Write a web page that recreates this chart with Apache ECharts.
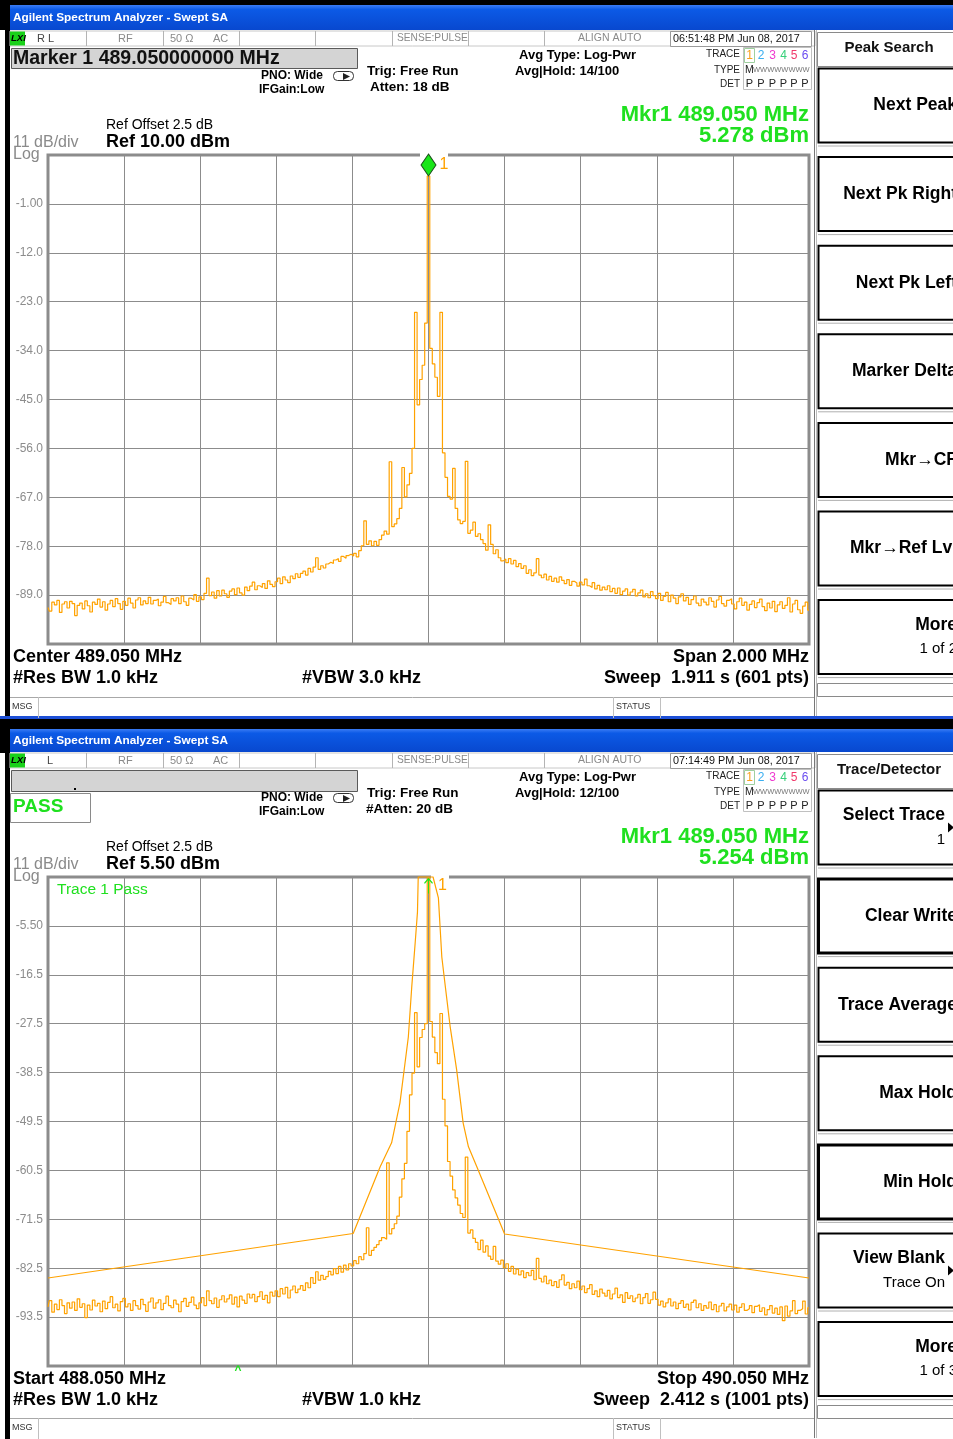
<!DOCTYPE html>
<html>
<head>
<meta charset="utf-8">
<title>Agilent Spectrum Analyzer - Swept SA</title>
<script src="https://cdn.jsdelivr.net/npm/echarts@6/dist/echarts.min.js"></script>
<style>
  html, body { margin: 0; padding: 0; background: #fff; }
  #chart { width: 953px; height: 1439px; }
</style>
</head>
<body>
<div id="chart"></div>
<script>
// ---- Sweep settings ----
const upperStartMHz = 488.05;   // Center 489.050 MHz, Span 2.000 MHz
const upperStopMHz = 490.05;
const lowerStartMHz = 488.05;   // Start 488.050 MHz
const lowerStopMHz = 490.05;    // Stop 490.050 MHz

// Reference levels and scale (11 dB/div, 10 divisions)
const upperRefDbm = 10.0;
const lowerRefDbm = 5.5;
const dbPerDiv = 11;

// Marker 1 readouts
const upperMarkerMHz = 489.05, upperMarkerDbm = 5.278;
const lowerMarkerMHz = 489.05, lowerMarkerDbm = 5.254;

// Trace 1, upper screen (dBm, evenly spaced across the span)
const upperTraceDbm = [
  -91.8, -92.6, -90.6, -91.2, -90.2, -92.9, -91.0, -90.5, -91.9, -90.4,
  -90.9, -93.6, -91.3, -90.8, -92.1, -90.3, -91.4, -92.8, -90.6, -91.1,
  -89.9, -91.7, -90.5, -92.4, -91.0, -90.2, -91.6, -89.8, -90.9, -92.2,
  -90.4, -91.3, -89.7, -90.8, -91.9, -90.1, -89.6, -91.2, -90.3, -90.9,
  -89.5, -91.0, -90.2, -89.9, -91.4, -90.6, -89.3, -90.7, -91.1, -89.8,
  -90.3, -89.6, -90.9, -89.2, -90.5, -91.3, -89.7, -90.1, -88.9, -90.4,
  -89.4, -90.0, -88.6, -85.2, -89.1, -88.3, -89.7, -88.0, -89.2, -87.9,
  -88.7, -89.5, -88.1, -87.6, -88.9, -87.4, -88.5, -89.0, -87.2, -88.0,
  -87.0, -86.1, -87.8, -86.9, -87.3, -86.4, -87.5, -85.8, -86.6, -87.1,
  -86.0, -85.2, -86.4, -84.9, -85.6, -86.2, -84.7, -85.3, -84.2, -85.0,
  -84.1, -83.6, -84.5, -83.0, -83.8, -82.7, -80.6, -83.2, -82.4, -82.9,
  -82.0, -81.6, -81.9, -81.1, -80.8, -81.4, -80.3, -80.7, -80.1, -79.8,
  -80.2, -79.6, -80.4, -79.0, -77.9, -72.3, -77.6, -76.8, -77.9, -76.9,
  -77.8, -76.5, -75.5, -74.6, -75.3, -59.0, -73.6, -73.0, -71.8, -69.5,
  -60.3, -66.9, -64.2, -61.6, -56.0, -25.4, -46.2, -40.5, -37.3, -27.8,
  5.278,
  -33.5, -37.0, -40.0, -44.3, -25.4, -57.0, -62.5, -66.8, -67.4,
  -60.5, -69.5, -72.1, -72.9, -72.4, -58.9, -75.1, -74.4, -72.6, -75.8,
  -75.2, -76.5, -77.4, -78.9, -73.2, -77.6, -79.7, -78.8, -80.6, -81.3,
  -80.9, -81.7, -80.8, -82.0, -81.2, -82.6, -81.9, -83.0, -82.4, -84.1,
  -83.3, -84.6, -84.0, -80.8, -84.5, -85.1, -84.3, -85.6, -84.8, -85.9,
  -85.2, -86.1, -84.9, -85.7, -86.4, -85.5, -86.8, -85.9, -86.3, -87.0,
  -86.1, -86.7, -85.4, -86.9, -87.3, -86.2, -87.6, -86.8, -87.9, -87.2,
  -87.8, -86.9, -88.2, -87.5, -88.6, -87.4, -88.9, -88.1, -87.6, -89.0,
  -88.3, -87.7, -89.2, -88.5, -87.9, -89.4, -88.7, -89.6, -88.2, -89.1,
  -89.8, -88.6, -90.2, -89.3, -88.4, -90.5, -89.0, -89.7, -90.9, -89.4,
  -88.7, -90.3, -89.5, -91.1, -90.0, -89.2, -90.8, -91.4, -89.9, -90.6,
  -91.2, -89.6, -90.4, -91.7, -90.1, -89.3, -90.9, -91.5, -90.2, -89.8,
  -91.0, -92.1, -90.5, -89.7, -91.3, -90.6, -92.4, -91.1, -90.3, -91.8,
  -90.7, -89.9, -91.6, -92.5, -90.8, -91.9, -90.4, -92.7, -91.2, -90.5,
  -92.0, -91.3, -89.6, -92.8, -91.0, -90.2, -92.3, -93.1, -91.5, -90.6, -92.4
];

// Trace 1, lower screen (dBm, evenly spaced across the span)
const lowerTraceDbm = [
  -91.2, -89.8, -92.4, -90.6, -91.8, -89.6, -90.9, -92.7, -90.3, -91.5,
  -90.1, -92.0, -89.4, -91.3, -90.5, -93.6, -90.8, -91.9, -89.7, -91.0,
  -90.4, -92.3, -89.9, -91.6, -90.2, -88.9, -91.4, -90.6, -92.1, -90.0,
  -89.3, -91.2, -90.5, -92.0, -89.8, -90.9, -91.7, -89.5, -90.7, -92.2,
  -90.1, -89.2, -91.5, -90.3, -89.6, -91.8, -90.4, -88.8, -90.9, -91.4,
  -89.7, -90.6, -92.3, -90.0, -89.3, -91.1, -90.2, -89.0, -90.8, -91.6,
  -90.3, -89.1, -90.9, -87.6, -89.8, -90.5, -89.2, -91.3, -89.6, -88.7,
  -90.1, -89.4, -88.5, -90.6, -89.0, -91.2, -88.8, -89.7, -90.4, -88.3,
  -89.2, -88.4, -90.0, -88.9, -87.8, -89.5, -88.6, -90.3, -87.9, -88.8,
  -87.6, -88.9, -87.1, -88.3, -86.8, -89.2, -87.4, -86.5, -88.0, -87.2,
  -86.4, -87.5, -85.8, -86.9, -84.6, -85.9, -83.3, -85.2, -84.1, -85.0,
  -84.4, -83.2, -84.0, -82.6, -83.7, -82.1, -83.4, -81.8, -82.9, -81.5,
  -82.0, -80.8, -81.5, -79.9, -80.6, -79.2, -73.4, -79.6, -78.5, -77.8,
  -77.2, -76.3, -75.6, -76.0, -58.8, -74.8, -73.6, -72.5, -70.8, -66.5,
  -62.4, -58.9, -51.7, -43.5, -38.6, -25.0, -37.2, -30.6, -28.8, -27.5,
  5.254,
  -27.0, -30.5, -34.0, -36.5, -25.2, -44.5, -50.5, -58.5, -61.8,
  -64.9, -66.7, -68.3, -70.2, -71.1, -57.5, -74.6, -73.9, -75.8, -76.7,
  -78.3, -76.2, -78.9, -77.5, -79.8, -80.5, -77.6, -80.9, -81.6, -80.7,
  -82.4, -81.5, -83.2, -82.1, -83.8, -82.7, -84.0, -83.1, -84.6, -83.5,
  -84.2, -83.0, -85.1, -80.3, -84.8, -85.6, -84.3, -86.0, -85.2, -86.4,
  -85.5, -86.8, -85.1, -84.0, -86.3, -85.7, -87.1, -86.0, -86.9, -85.4,
  -87.3, -86.5, -88.0, -87.1, -86.2, -88.4, -87.6, -88.9, -87.2, -88.1,
  -88.8, -87.5, -89.4, -88.3, -87.0, -89.1, -88.5, -90.2, -88.0, -89.3,
  -88.7, -90.0, -89.2, -88.4, -90.5, -89.1, -88.2, -90.4, -89.6, -87.9,
  -89.5, -90.8, -89.9, -91.2, -90.3, -89.4, -91.0, -90.1, -91.6, -90.4,
  -89.8, -91.3, -90.6, -91.9, -90.2, -89.7, -91.4, -90.5, -92.0, -90.9,
  -91.5, -90.1, -91.8, -90.7, -92.3, -91.0, -90.4, -92.1, -91.2, -90.6,
  -91.9, -90.8, -92.4, -91.3, -90.5, -92.0, -91.6, -90.9, -92.5, -91.1,
  -90.7, -92.2, -91.4, -93.0, -91.8, -90.9, -92.6, -91.5, -92.9, -91.2,
  -94.3, -91.0, -93.3, -92.1, -89.8, -92.7, -92.0, -91.6, -89.9, -92.8, -91.4
];

// Limit line on the lower screen (vertices)
const lowerLimitMHz = [488.050, 488.852, 488.923, 488.953, 488.975, 488.997, 489.006, 489.015, 489.021, 489.023,
                       489.062, 489.076, 489.085, 489.093, 489.107, 489.124, 489.141, 489.155, 489.177, 489.250, 490.050];
const lowerLimitDbm = [-84.7, -74.7, -59.7, -54.3, -45.3, -30.5, -19.2, -9.3, -2.4, 5.5,
                       5.5, 0.8, -12.5, -18.3, -28.2, -37.9, -49.8, -55.2, -59.7, -74.8, -84.7];

// Softkey menus
const upperMenuTitle = 'Peak Search';
const upperKeys = [
  { main: 'Next Peak' }, { main: 'Next Pk Right' }, { main: 'Next Pk Left' },
  { main: 'Marker Delta' }, { main: 'Mkr\u2192CF' }, { main: 'Mkr\u2192Ref Lvl' },
  { main: 'More', sub: '1 of 2' }
];
const lowerMenuTitle = 'Trace/Detector';
const lowerKeys = [
  { main: 'Select Trace', sub: '1', arrow: true }, { main: 'Clear Write', heavy: true },
  { main: 'Trace Average' }, { main: 'Max Hold' }, { main: 'Min Hold', heavy: true },
  { main: 'View Blank', sub: 'Trace On', arrow: true }, { main: 'More', sub: '1 of 3' }
];

// ---- Drawing helpers ----
const FONT = '"Liberation Sans", Arial, sans-serif';
const ORANGE = '#ffa200';
const GREEN = '#1fe01f';
const GRID_GRAY = '#8c8c8c';
function font(size, weight) { return (weight ? weight + ' ' : '') + size + 'px ' + FONT; }

const G = [];
function rect(x, y, w, h, fill, stroke, lw, z, r) {
  G.push({ type: 'rect', silent: true, z: z || 0,
    shape: { x: x, y: y, width: w, height: h, r: r || 0 },
    style: { fill: fill || 'none', stroke: stroke || null, lineWidth: lw || 1 } });
}
function seg(x1, y1, x2, y2, stroke, lw) {
  G.push({ type: 'line', silent: true, shape: { x1: x1, y1: y1, x2: x2, y2: y2 },
    style: { stroke: stroke, lineWidth: lw || 1 } });
}
function poly(points, fill) {
  G.push({ type: 'polygon', silent: true, shape: { points: points }, style: { fill: fill } });
}
function text(x, y, s, f, fill, align) {
  G.push({ type: 'text', silent: true, z: 5,
    style: { x: x, y: y, text: s, font: f, fill: fill || '#000',
             textAlign: align || 'left', textVerticalAlign: 'middle' } });
}

// Window frame
rect(0, 0, 953, 5, '#000');
rect(5, 0, 5, 1439, '#000');
rect(0, 0, 10, 30, '#000');
rect(0, 716, 953, 13, '#000');
rect(0, 716, 953, 3, '#1d4fd6');
rect(0, 729, 10, 24, '#000');

function drawScreen(d, o) {
  // title bar
  G.push({ type: 'rect', silent: true, shape: { x: 10, y: o.titleTop, width: 943, height: o.titleH },
    style: { fill: new echarts.graphic.LinearGradient(0, 0, 0, 1, [
      { offset: 0, color: '#3b7cf4' }, { offset: 0.18, color: '#0c5ae6' }, { offset: 1, color: '#0848cf' }]) } });
  text(13, o.titleTop + o.titleH / 2, 'Agilent Spectrum Analyzer - Swept SA', font(11.8, 'bold'), '#fff');

  // status row
  const sy = 31 + d;
  rect(10, sy, 805, 15, '#fff', '#c8c8c8', 1);
  [86, 163, 239, 315, 392, 468, 544, 670].forEach(x => seg(x + 0.5, sy, x + 0.5, sy + 15, '#b4b4b4', 1));
  rect(10, sy + 0.5, 15, 14, '#19d119');
  text(11, sy + 7.5, 'LXI', font(9.5, 'italic bold'), '#000');
  text(o.rlX, sy + 7.5, o.rl, font(11), '#444');
  text(118, sy + 7.5, 'RF', font(11), '#8a8a8a');
  text(170, sy + 7.5, '50 \u03a9', font(11), '#8a8a8a');
  text(213, sy + 7.5, 'AC', font(11), '#8a8a8a');
  text(397, sy + 7.5, 'SENSE:PULSE', font(10.2), '#8a8a8a');
  text(578, sy + 7.5, 'ALIGN AUTO', font(10.5), '#8a8a8a');
  rect(670.5, sy + 0.5, 141, 15, '#fff', '#9a9a9a', 1);
  text(673, sy + 8, o.clock, font(10.8), '#111');

  // marker readout line
  rect(11.5, 48.5 + d, 346, o.markerH, '#d4d4d4', '#5a5a5a', 1);
  if (o.markerLine) text(13, 58.5 + d, o.markerLine, font(19.5, 'bold'), '#111');
  if (o.pass) {
    rect(74, 66 + d, 2, 2, '#000');
    rect(10.5, 71.5 + d, 80, 29, '#fff', '#8a8a8a', 1);
    text(13, 84.5 + d, o.pass, font(19, 'bold'), GREEN);
  }

  // acquisition settings
  text(261, 76 + d, 'PNO: Wide', font(12, 'bold'));
  text(259, 90 + d, 'IFGain:Low', font(12, 'bold'));
  rect(333.5, 71.5 + d, 20, 9, 'none', '#333', 1, 0, 4);
  poly([[343, 73 + d], [350, 76.5 + d], [343, 80 + d]], '#222');
  text(367, 71 + d, 'Trig: Free Run', font(13.5, 'bold'));
  text(o.attenX, 87.5 + d, o.atten, font(13.5, 'bold'));
  text(519, 55 + d, 'Avg Type: Log-Pwr', font(13, 'bold'));
  text(515, 71 + d, o.avgHold, font(13, 'bold'));

  // trace indicator block
  text(740, 54 + d, 'TRACE', font(10), '#222', 'right');
  text(740, 70 + d, 'TYPE', font(10), '#222', 'right');
  text(740, 84 + d, 'DET', font(10), '#222', 'right');
  rect(743.5, 47.5 + d, 68, 42, '#fff', '#c0c0c0', 1);
  rect(744.5, 48.5 + d, 10, 14, 'none', '#9fd09f', 1);
  const tx = [749.5, 761, 772.5, 783.5, 794, 805];
  const tc = ['#f7a21b', '#3aaef0', '#ee38d0', '#36d07a', '#f0386a', '#6a4cf0'];
  tx.forEach((x, i) => {
    text(x, 56 + d, String(i + 1), font(12), tc[i], 'center');
    text(x, 83.5 + d, 'P', font(11), '#222', 'center');
  });
  text(745, 70 + d, 'M', font(10.5), '#222');
  text(753, 70 + d, 'WWWWWWWW', font(7.5), '#777');

  // marker readout
  text(809, 115 + d, o.mkrFreq, font(22, 'bold'), GREEN, 'right');
  text(809, 136 + d, o.mkrLevel, font(22, 'bold'), GREEN, 'right');

  // reference / scale
  text(106, 125 + d, 'Ref Offset 2.5 dB', font(14));
  text(106, 142 + d, o.refLevel, font(18, 'bold'));
  text(13, 143 + d, '11 dB/div', font(16), '#8a8a8a');
  text(13, 155 + d, 'Log', font(16), '#8a8a8a');

  // sweep annotations
  text(13, 657 + d, o.freqLeft, font(18, 'bold'));
  text(809, 657 + d, o.freqRight, font(18, 'bold'), '#000', 'right');
  text(13, 678 + d, '#Res BW 1.0 kHz', font(18, 'bold'));
  text(302, 678 + d, o.vbw, font(18, 'bold'));
  text(809, 678 + d, o.sweep, font(18, 'bold'), '#000', 'right');

  // message row
  const my = o.msgTop;
  seg(10, my + 0.5, 815, my + 0.5, '#a8a8a8', 1);
  seg(38.5, my, 38.5, my + 21, '#c0c0c0', 1);
  seg(613.5, my, 613.5, my + 21, '#c0c0c0', 1);
  seg(660.5, my, 660.5, my + 21, '#c0c0c0', 1);
  text(12, my + 10, 'MSG', font(9), '#333');
  text(616, my + 10, 'STATUS', font(9), '#333');

  // softkey panel
  seg(814.5, 30 + d, 814.5, 716 + d, '#777', 1);
  seg(816.5, 30 + d, 816.5, 716 + d, '#bbb', 1);
  rect(817.5, 32.5 + d, 140, 34, '#fff', '#8a8a8a', 1);
  text(889, 48 + d, o.menuTitle, font(15, 'bold'), '#111', 'center');
  o.keys.forEach((k, i) => {
    const top = 68.5 + d + 88.6 * i;
    const c = top + 37;
    rect(818.5, top, 150, 74, '#fff', '#000', k.heavy ? 3 : 2);
    seg(818, top + 77.5, 953, top + 77.5, '#b0b0b0', 1);
    const rx = k.arrow ? 945 : 957;
    if (k.sub) {
      text(rx, c - 12, k.main, font(17.5, 'bold'), '#000', 'right');
      text(rx, c + 12, k.sub, font(15), '#000', 'right');
    } else {
      text(rx, c, k.main, font(17.5, 'bold'), '#000', 'right');
    }
    if (k.arrow) poly([[948, c - 5], [954, c], [948, c + 5]], '#000');
  });
  rect(817.5, 683.5 + d, 140, 13, '#fff', '#8a8a8a', 1);
}

drawScreen(0, {
  titleTop: 5, titleH: 25, rl: 'R L', rlX: 37, clock: '06:51:48 PM Jun 08, 2017',
  markerH: 20, markerLine: 'Marker 1 489.050000000 MHz', pass: null,
  atten: 'Atten: 18 dB', attenX: 370, avgHold: 'Avg|Hold: 14/100',
  mkrFreq: 'Mkr1 489.050 MHz', mkrLevel: '5.278 dBm', refLevel: 'Ref 10.00 dBm',
  freqLeft: 'Center 489.050 MHz', freqRight: 'Span 2.000 MHz', vbw: '#VBW 3.0 kHz',
  sweep: 'Sweep  1.911 s (601 pts)', msgTop: 697,
  menuTitle: upperMenuTitle, keys: upperKeys
});
drawScreen(722, {
  titleTop: 729, titleH: 23, rl: 'L', rlX: 47, clock: '07:14:49 PM Jun 08, 2017',
  markerH: 21, markerLine: null, pass: 'PASS',
  atten: '#Atten: 20 dB', attenX: 366, avgHold: 'Avg|Hold: 12/100',
  mkrFreq: 'Mkr1 489.050 MHz', mkrLevel: '5.254 dBm', refLevel: 'Ref 5.50 dBm',
  freqLeft: 'Start 488.050 MHz', freqRight: 'Stop 490.050 MHz', vbw: '#VBW 1.0 kHz',
  sweep: 'Sweep  2.412 s (1001 pts)', msgTop: 1418,
  menuTitle: lowerMenuTitle, keys: lowerKeys
});

// limit-test annotation and caret on the lower screen
text(57, 890, 'Trace 1 Pass', font(15.5), GREEN);
text(238, 1371, '^', font(12, 'bold'), GREEN, 'center');

// breaks in the top graticule edge behind the marker annotations
rect(420, 151, 28, 8, '#fff', null, 1, 1);
rect(431, 873, 18, 8, '#fff', null, 1, 1);

// ---- Chart ----
function sweepPoints(start, stop, levels) {
  const n = levels.length - 1;
  return levels.map((v, i) => [start + (stop - start) * i / n, v]);
}
function levelLabel(lo, hi) {
  return function (v) {
    if (Math.abs(v - lo) < 1e-6 || Math.abs(v - hi) < 1e-6) return '';
    return Math.abs(v) < 10 ? v.toFixed(2) : v.toFixed(1);
  };
}
const upperMin = upperRefDbm - 10 * dbPerDiv;
const lowerMin = lowerRefDbm - 10 * dbPerDiv;

function xAxisFor(idx, start, stop) {
  return { gridIndex: idx, type: 'value', min: start, max: stop, interval: (stop - start) / 10,
    axisLine: { show: false }, axisTick: { show: false }, axisLabel: { show: false },
    splitLine: { show: true, lineStyle: { color: GRID_GRAY, width: 1 } } };
}
function yAxisFor(idx, lo, hi) {
  return { gridIndex: idx, type: 'value', min: lo, max: hi, interval: dbPerDiv,
    axisLine: { show: false }, axisTick: { show: false },
    axisLabel: { show: true, margin: 5, color: '#8c8c8c', fontSize: 12, fontFamily: FONT,
                 formatter: levelLabel(lo, hi) },
    splitLine: { show: true, lineStyle: { color: GRID_GRAY, width: 1 } } };
}

const gridStyle = { show: true, borderColor: '#8c8c8c', borderWidth: 3, backgroundColor: '#fff' };

const option = {
  backgroundColor: '#fff',
  animation: false,
  grid: [
    Object.assign({ left: 48, top: 155, width: 761, height: 489 }, gridStyle),
    Object.assign({ left: 48, top: 877, width: 761, height: 489 }, gridStyle)
  ],
  xAxis: [xAxisFor(0, upperStartMHz, upperStopMHz), xAxisFor(1, lowerStartMHz, lowerStopMHz)],
  yAxis: [yAxisFor(0, upperMin, upperRefDbm), yAxisFor(1, lowerMin, lowerRefDbm)],
  series: [
    {
      name: 'Trace 1', type: 'line', xAxisIndex: 0, yAxisIndex: 0,
      data: sweepPoints(upperStartMHz, upperStopMHz, upperTraceDbm),
      step: 'middle', symbol: 'none', clip: false, z: 3,
      lineStyle: { color: ORANGE, width: 1.2 },
      markPoint: {
        symbol: 'diamond', symbolSize: [15, 22], symbolOffset: [0, -11],
        itemStyle: { color: '#19e619', borderColor: '#1d4d1d', borderWidth: 1 },
        label: { show: true, position: 'right', distance: 3, formatter: '1', color: ORANGE,
                 fontSize: 16, fontFamily: FONT },
        data: [{ coord: [upperMarkerMHz, upperMarkerDbm] }]
      }
    },
    {
      name: 'Limit', type: 'line', xAxisIndex: 1, yAxisIndex: 1,
      data: lowerLimitMHz.map((f, i) => [f, lowerLimitDbm[i]]),
      symbol: 'none', clip: false, z: 3,
      lineStyle: { color: ORANGE, width: 1.2 }
    },
    {
      name: 'Trace 1', type: 'line', xAxisIndex: 1, yAxisIndex: 1,
      data: sweepPoints(lowerStartMHz, lowerStopMHz, lowerTraceDbm),
      step: 'middle', symbol: 'none', clip: false, z: 3,
      lineStyle: { color: ORANGE, width: 1.2 },
      markPoint: {
        symbol: 'path://M5,0 L0,5 M5,0 L10,5 M5,0 L5,16', symbolSize: [8, 15], symbolOffset: [0, 8],
        symbolKeepAspect: false,
        itemStyle: { color: 'rgba(0,0,0,0)', borderColor: '#19e619', borderWidth: 1.2 },
        label: { show: true, position: 'right', distance: 5, formatter: '1', color: ORANGE,
                 fontSize: 16, fontFamily: FONT },
        data: [{ coord: [lowerMarkerMHz, lowerMarkerDbm] }]
      }
    }
  ],
  graphic: { elements: G }
};

const chart = echarts.init(document.getElementById('chart'), null, { renderer: 'canvas' });
chart.setOption(option);
</script>
</body>
</html>
